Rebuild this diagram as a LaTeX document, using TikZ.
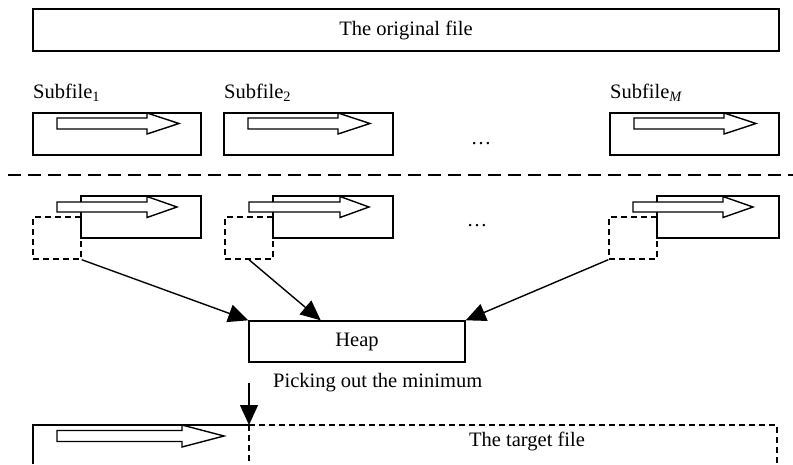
\documentclass[tikz,border=0pt]{standalone}
\usepackage{fontspec}
\setmainfont{Liberation Serif}
\usetikzlibrary{arrows.meta,calc}
\newcommand{\hollowarrow}[6]{% x0, yc, xhead, xtip, shaft half, head half
  \draw[blockarrow] (#1,#2-#5) -- (#3,#2-#5) -- (#3,#2-#6) -- (#4,#2)
    -- (#3,#2+#6) -- (#3,#2+#5) -- (#1,#2+#5) -- cycle;}
\begin{document}
\begin{tikzpicture}[x=1pt,y=-1pt,
  every node/.style={font=\fontsize{20.5}{24}\selectfont},
  box/.style={draw,line width=1.4pt,fill=white,inner sep=0pt},
  dbox/.style={draw,line width=1.4pt,dash pattern=on 6pt off 4pt,inner sep=0pt},
  blockarrow/.style={draw,line width=1.4pt,fill=white,line join=miter},
  conn/.style={line width=1.4pt,-{Triangle[length=20pt,width=18pt]}},
  lbl/.style={anchor=base west,inner sep=0pt}]
\useasboundingbox (0,0) rectangle (793,464);
% top box
\node[box,minimum width=746pt,minimum height=42pt] (orig) at (406,30) {The original file};
% subfile labels
\node[lbl] (l1) at (33,98) {Subfile\textsubscript{1}};
\node[lbl] (l2) at (224,98) {Subfile\textsubscript{2}};
\node[lbl] (l3) at (610,98) {Subfile\textsubscript{\textit{M}}};
% row 1 boxes
\node[box,minimum width=168pt,minimum height=42pt] (a1) at (117,134) {};
\node[box,minimum width=169pt,minimum height=42pt] (a2) at (308.5,134) {};
\node[box,minimum width=169pt,minimum height=42pt] (a3) at (694.5,134) {};
\hollowarrow{57}{123.5}{147}{179}{5.5}{10.5}
\hollowarrow{248}{123.5}{338}{370}{5.5}{10.5}
\hollowarrow{634}{123.5}{724}{756}{5.5}{10.5}
\node (dots1) at (481,144) {\dots};
% separator
\coordinate (sepL) at (8,175);
\coordinate (sepR) at (793,175);
\draw[line width=1.8pt,dash pattern=on 13pt off 7pt] (sepL) -- (sepR);
% row 2
\node[dbox,minimum width=48pt,minimum height=42pt] (d1) at (57,238) {};
\node[dbox,minimum width=48pt,minimum height=42pt] (d2) at (249,238) {};
\node[dbox,minimum width=48pt,minimum height=42pt] (d3) at (633,238) {};
\node[box,minimum width=120pt,minimum height=42pt] (b1) at (141,217) {};
\node[box,minimum width=120pt,minimum height=42pt] (b2) at (333,217) {};
\node[box,minimum width=122pt,minimum height=42pt] (b3) at (718,217) {};
\hollowarrow{57}{207}{147}{177}{5}{10.5}
\hollowarrow{249}{207}{340}{369}{5}{10.5}
\hollowarrow{633}{207}{723}{753}{5}{10.5}
\node (dots2) at (477,226) {\dots};
% heap
\node[box,minimum width=216pt,minimum height=41pt] (heap) at (357,341.5) {Heap};
\draw[conn] (d1.south east) -- (heap.north west);
\draw[conn] (d2.south) -- ($(heap.north west)!0.333!(heap.north east)$);
\draw[conn] (d3.south west) -- (heap.north east);
\node[anchor=west,inner sep=0pt] (pick) at (273,383) {Picking out the minimum};
% target file
\coordinate (tl) at (33,425);
\coordinate (tm) at (249,425);
\coordinate (tr) at (777,425);
\coordinate (pickstart) at (249,383);
\draw[line width=1.4pt] (33,464) -- (tl) -- (tm);
\draw[line width=1.4pt,dash pattern=on 6pt off 4pt] (tm) -- (tr) -- (777,464);
\draw[line width=1.4pt,dash pattern=on 6pt off 4pt] (tm) -- (249,464);
\hollowarrow{57}{436}{182}{224}{5.5}{11}
\draw[conn] (pickstart) -- (tm);
\node (tgt) at (527,441) {The target file};
\end{tikzpicture}
\end{document}
